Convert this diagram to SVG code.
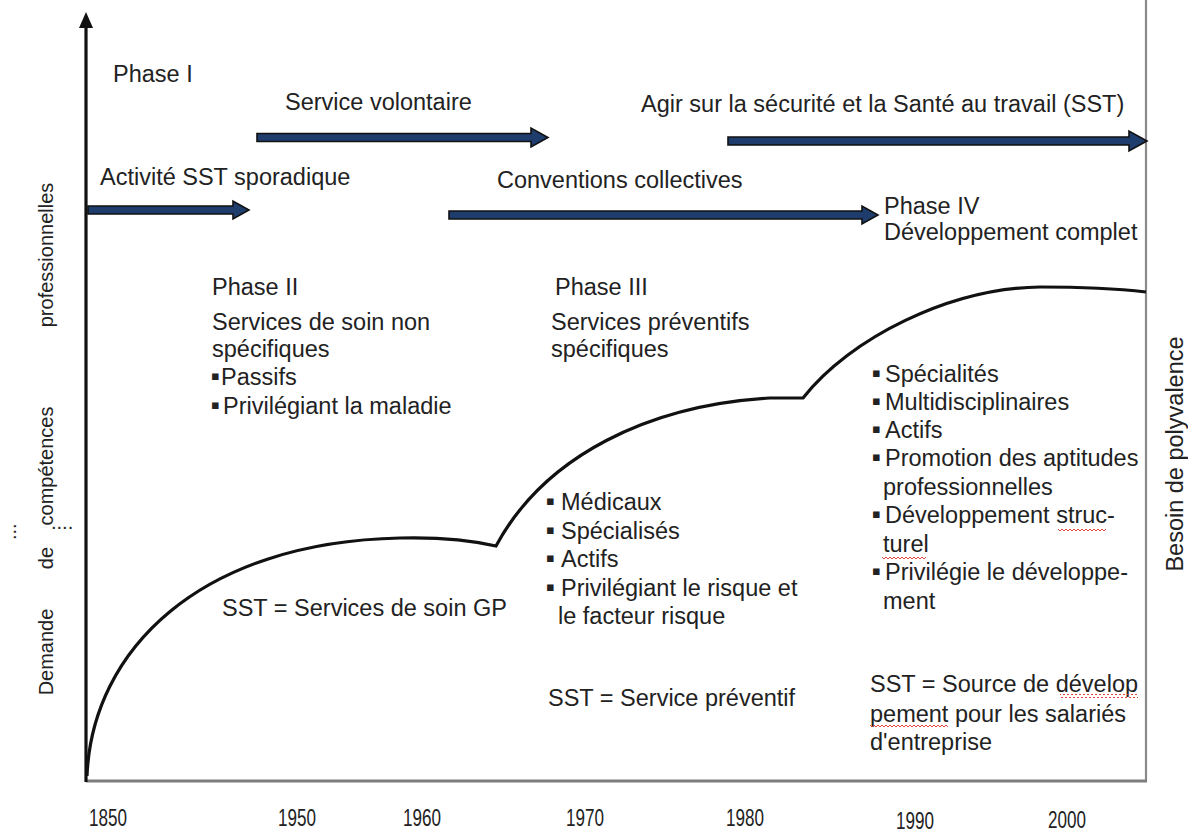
<svg xmlns="http://www.w3.org/2000/svg" width="1188" height="832" viewBox="0 0 1188 832">
  <defs>
    <style>
      .t { font-family: "Liberation Sans", Arial, "DejaVu Sans", sans-serif; font-size: 23.5px; fill: #222; }
      .b { font-family: "DejaVu Sans", "Liberation Sans", sans-serif; font-size: 13px; fill: #222; }
      .yr { font-family: "Liberation Sans", Arial, sans-serif; font-size: 23px; fill: #222; }
      .ax { font-family: "Liberation Sans", Arial, sans-serif; font-size: 20px; fill: #222; }
      .arrow { fill: #1e3c6c; stroke: #111; stroke-width: 1.6; stroke-linejoin: miter; }
      .curve { fill: none; stroke: #111; stroke-width: 3.2; stroke-linejoin: miter; }
    </style>
    <pattern id="squiggle" width="4" height="4" patternUnits="userSpaceOnUse">
      <path d="M0,3 L2,1 L4,3" fill="none" stroke="#e0302a" stroke-width="0.9"/>
    </pattern>
  </defs>

  <rect width="1188" height="832" fill="#fff"/>

  <!-- axes -->
  <g id="axes">
    <line x1="1146" y1="0" x2="1146" y2="782" stroke="#8a8a8a" stroke-width="2.2"/>
    <line x1="86" y1="781" x2="1147" y2="781" stroke="#7d7d7d" stroke-width="3"/>
    <line x1="86" y1="24" x2="86" y2="782" stroke="#111" stroke-width="3.2"/>
    <polygon points="86,12 93,28 79,28" fill="#111"/>
  </g>

  <!-- growth curve -->
  <g id="curve">
    <path class="curve" d="M87,776 C92,650 200,542 400,538 C440,537 470,540 496,546 C545,455 650,405 770,398 L803,398 C850,338 950,288 1040,287 C1090,287 1120,289 1146,292"/>
  </g>

  <!-- axis titles -->
  <g id="axis-y-label">
    <text class="ax" transform="translate(53,652) rotate(-90)" text-anchor="middle">Demande</text>
    <text class="ax" transform="translate(53,558) rotate(-90)" text-anchor="middle">de</text>
    <text class="ax" transform="translate(53,466) rotate(-90)" text-anchor="middle">compétences</text>
    <text class="ax" transform="translate(53,255) rotate(-90)" text-anchor="middle">professionnelles</text>
    <text class="ax" x="51" y="529" font-size="9">....</text>
    <text class="ax" transform="translate(16,540) rotate(-90)" font-size="9">...</text>
  </g>
  <g id="axis-right-label">
    <text class="t" transform="translate(1183,454) rotate(-90)" text-anchor="middle">Besoin de polyvalence</text>
  </g>

  <!-- years -->
  <g id="years">
    <text class="yr" x="89" y="826" textLength="38" lengthAdjust="spacingAndGlyphs">1850</text>
    <text class="yr" x="278" y="826" textLength="38" lengthAdjust="spacingAndGlyphs">1950</text>
    <text class="yr" x="403" y="826" textLength="38" lengthAdjust="spacingAndGlyphs">1960</text>
    <text class="yr" x="566" y="826" textLength="38" lengthAdjust="spacingAndGlyphs">1970</text>
    <text class="yr" x="726" y="826" textLength="38" lengthAdjust="spacingAndGlyphs">1980</text>
    <text class="yr" x="896" y="829" textLength="38" lengthAdjust="spacingAndGlyphs">1990</text>
    <text class="yr" x="1048" y="828" textLength="38" lengthAdjust="spacingAndGlyphs">2000</text>
  </g>

  <!-- timeline arrows -->
  <g id="connectors">
    <polygon class="arrow" points="88,206 233,206 233,201 249,210 233,219 233,214 88,214"/>
    <polygon class="arrow" points="257,133.5 531,133.5 531,128 548,137.5 531,147 531,141.5 257,141.5"/>
    <polygon class="arrow" points="449,211 862,211 862,206 878,215 862,224 862,219 449,219"/>
    <polygon class="arrow" points="728,137 1129,137 1129,131 1147,141 1129,151 1129,145 728,145"/>
  </g>

  <!-- labels along the timeline -->
  <g id="phase-1">
    <text class="t" x="113" y="82">Phase I</text>
    <text class="t" x="100" y="185">Activité SST sporadique</text>
  </g>
  <g id="service-volontaire">
    <text class="t" x="285" y="110">Service volontaire</text>
  </g>
  <g id="agir-sst">
    <text class="t" x="641" y="112">Agir sur la sécurité et la Santé au travail (SST)</text>
  </g>
  <g id="conventions">
    <text class="t" x="497" y="188">Conventions collectives</text>
  </g>
  <g id="phase-4-title">
    <text class="t" x="884" y="214">Phase IV</text>
    <text class="t" x="884" y="240">Développement complet</text>
  </g>

  <!-- Phase II -->
  <g id="phase-2">
    <text class="t" x="212" y="295">Phase II</text>
    <text class="t" x="212" y="330">Services de soin non</text>
    <text class="t" x="212" y="357">spécifiques</text>
    <text class="t" y="385"><tspan class="b" x="211" dy="-5">▪</tspan><tspan x="221" dy="5">Passifs</tspan></text>
    <text class="t" y="414"><tspan class="b" x="211" dy="-5">▪</tspan><tspan x="223" dy="5">Privilégiant la maladie</tspan></text>
    <text class="t" x="222" y="616">SST = Services de soin GP</text>
  </g>

  <!-- Phase III -->
  <g id="phase-3">
    <text class="t" x="555" y="295">Phase III</text>
    <text class="t" x="551" y="330">Services préventifs</text>
    <text class="t" x="551" y="357">spécifiques</text>
    <text class="t" y="510"><tspan class="b" x="546" dy="-5">▪</tspan><tspan x="561" dy="5">Médicaux</tspan></text>
    <text class="t" y="539"><tspan class="b" x="546" dy="-5">▪</tspan><tspan x="561" dy="5">Spécialisés</tspan></text>
    <text class="t" y="567"><tspan class="b" x="546" dy="-5">▪</tspan><tspan x="561" dy="5">Actifs</tspan></text>
    <text class="t" y="596"><tspan class="b" x="546" dy="-5">▪</tspan><tspan x="561" dy="5">Privilégiant le risque et</tspan></text>
    <text class="t" x="558" y="624">le facteur risque</text>
    <text class="t" x="548" y="706">SST = Service préventif</text>
  </g>

  <!-- Phase IV -->
  <g id="phase-4">
    <text class="t" y="382"><tspan class="b" x="872" dy="-5">▪</tspan><tspan x="885" dy="5">Spécialités</tspan></text>
    <text class="t" y="410"><tspan class="b" x="872" dy="-5">▪</tspan><tspan x="885" dy="5">Multidisciplinaires</tspan></text>
    <text class="t" y="438"><tspan class="b" x="872" dy="-5">▪</tspan><tspan x="885" dy="5">Actifs</tspan></text>
    <text class="t" y="466"><tspan class="b" x="872" dy="-5">▪</tspan><tspan x="885" dy="5">Promotion des aptitudes</tspan></text>
    <text class="t" x="883" y="495">professionnelles</text>
    <text class="t" y="523"><tspan class="b" x="872" dy="-5">▪</tspan><tspan x="885" dy="5">Développement struc-</tspan></text>
    <text class="t" x="883" y="552">turel</text>
    <text class="t" y="580"><tspan class="b" x="872" dy="-5">▪</tspan><tspan x="885" dy="5">Privilégie le développe-</tspan></text>
    <text class="t" x="883" y="609">ment</text>
    <text class="t" x="870" y="692">SST = Source de dévelop</text>
    <text class="t" x="870" y="722">pement pour les salariés</text>
    <text class="t" x="870" y="750">d'entreprise</text>
    <!-- spell-check underlines -->
    <rect x="1060" y="694" width="78" height="4" fill="url(#squiggle)"/>
    <rect x="870" y="724" width="78" height="4" fill="url(#squiggle)"/>
    <rect x="1058" y="527" width="48" height="4" fill="url(#squiggle)"/>
    <rect x="882" y="555" width="44" height="4" fill="url(#squiggle)"/>
  </g>
</svg>
